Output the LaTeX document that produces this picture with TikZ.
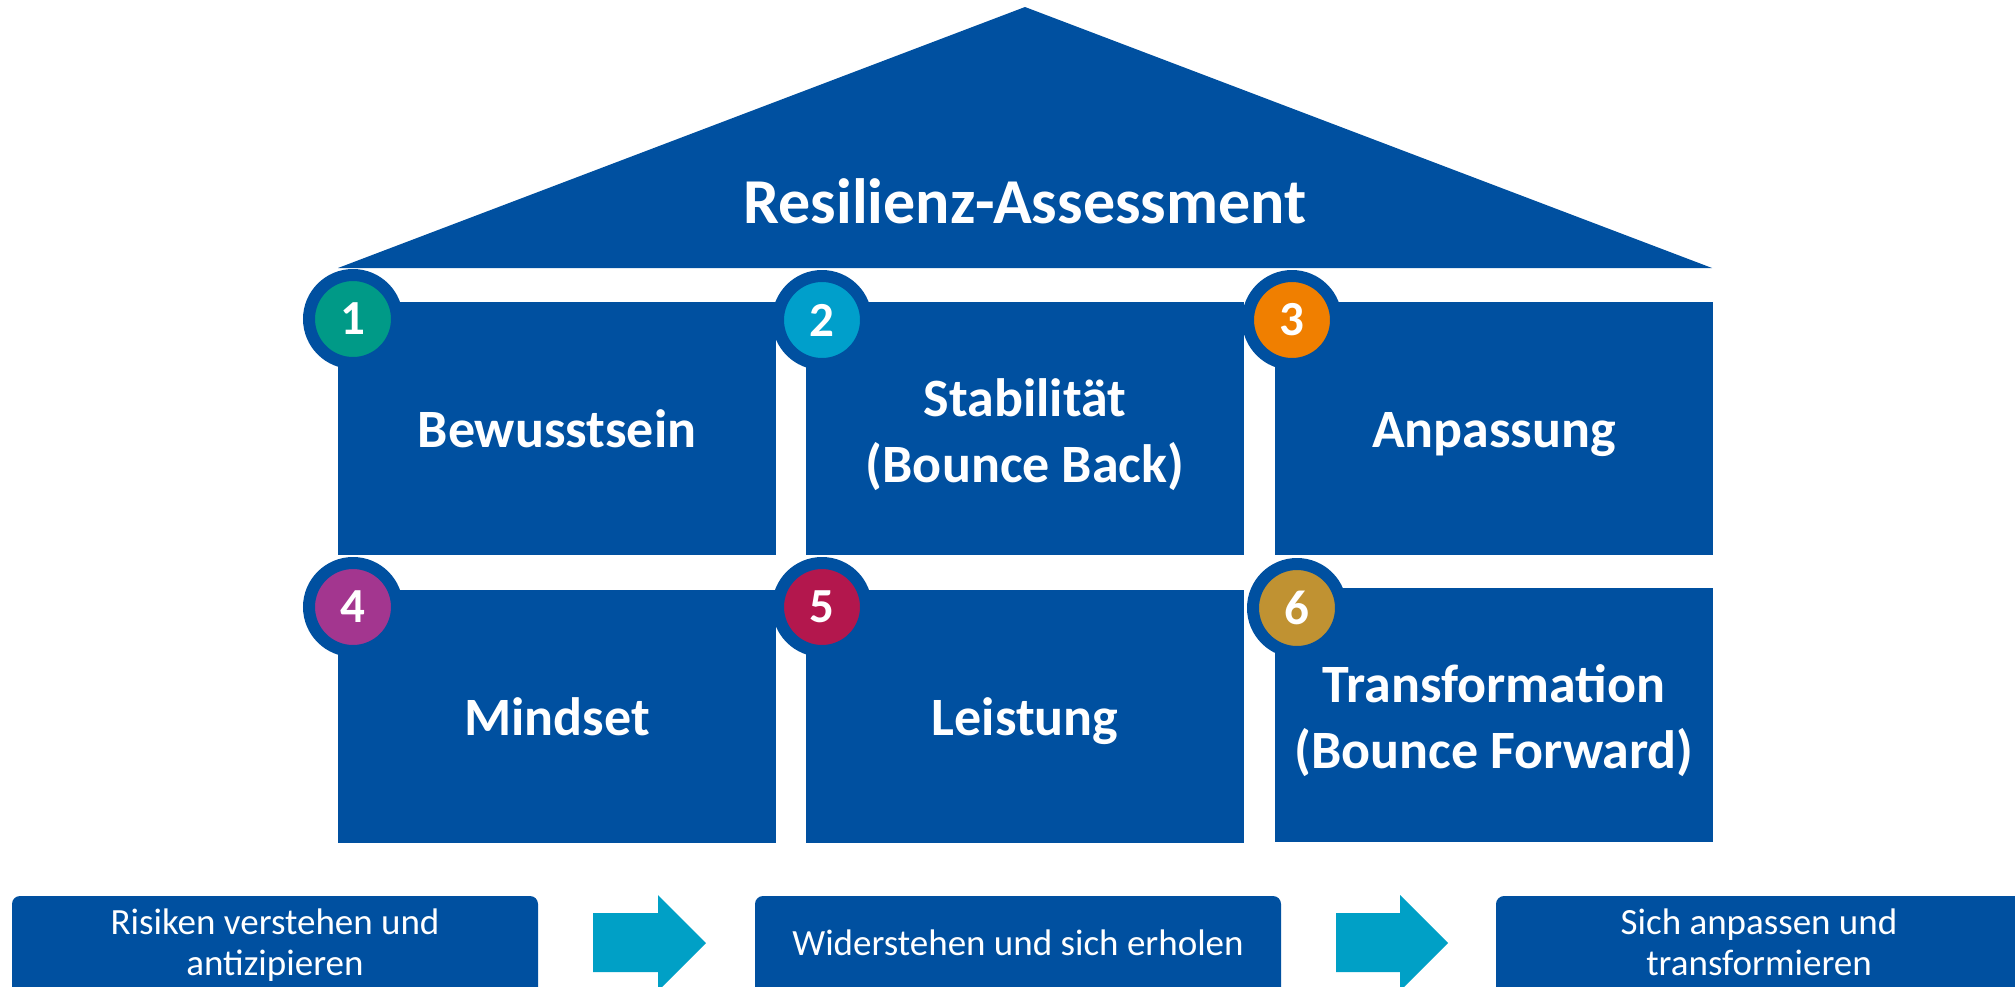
\documentclass[tikz,border=0pt]{standalone}
\usepackage{fontspec}
\setmainfont{Carlito}
\definecolor{dblue}{HTML}{0050A0}
\definecolor{acyan}{HTML}{00A0C6}
\definecolor{cone}{HTML}{009A87}
\definecolor{ctwo}{HTML}{009FCB}
\definecolor{cthree}{HTML}{F07F00}
\definecolor{cfour}{HTML}{A3368F}
\definecolor{cfive}{HTML}{B3174D}
\definecolor{csix}{HTML}{C09232}
\tikzset{
  pillar/.style={rectangle,fill=dblue,draw=none,inner sep=0pt,minimum width=438pt,minimum height=253pt},
  badge/.style={circle,draw=dblue,line width=12pt,minimum size=88pt,inner sep=0pt,text=white,font=\bfseries\fontsize{49}{50}\selectfont},
  ptext/.style={text=white,anchor=base,inner sep=0pt,font=\bfseries\fontsize{54}{66}\selectfont},
  bbox/.style={rectangle,rounded corners=8pt,fill=dblue,draw=none,inner sep=0pt,minimum width=526pt,minimum height=114pt},
  btext/.style={text=white,anchor=base,inner sep=0pt,font=\fontsize{37}{41}\selectfont},
  blockarrow/.style={fill=acyan,draw=none}
}
\newcommand{\twol}[2]{\begin{tabular}[t]{@{}c@{}}#1\\#2\end{tabular}}
\begin{document}
\begin{tikzpicture}[x=1pt,y=-1pt]
\useasboundingbox (0,0) rectangle (2015,986);
\clip (0,0) rectangle (2015,986);
% roof
\fill[dblue] (338,268) -- (1025,7) -- (1712,268) -- cycle;
\node[text=white,anchor=base,inner sep=0pt,font=\bfseries\fontsize{64}{70}\selectfont] (title) at (1025,223) {Resilienz-Assessment};
% pillars
\node[pillar] (p1) at (557,428.5) {};
\node[pillar] (p2) at (1025,428.5) {};
\node[pillar] (p3) at (1494,428.5) {};
\node[pillar] (p4) at (557,716.5) {};
\node[pillar] (p5) at (1025,716.5) {};
\node[pillar,minimum height=254pt] (p6) at (1494,715) {};
% pillar texts
\node[ptext] (t1) at (557,447) {Bewusstsein};
\node[ptext] (t2) at (1025,416) {\twol{Stabilität}{(Bounce Back)}};
\node[ptext] (t3) at (1494,447) {Anpassung};
\node[ptext] (t4) at (557,735) {Mindset};
\node[ptext] (t5) at (1025,735) {Leistung};
\node[ptext] (t6) at (1494,702) {\twol{Transformation}{(Bounce Forward)}};
% badges
\node[badge,fill=cone] (n1) at (353,319) {1};
\node[badge,fill=ctwo] (n2) at (822,320) {2};
\node[badge,fill=cthree] (n3) at (1292,320) {3};
\node[badge,fill=cfour] (n4) at (353,607) {4};
\node[badge,fill=cfive] (n5) at (822,607) {5};
\node[badge,fill=csix] (n6) at (1297,608) {6};
% bottom boxes
\node[bbox] (r1) at (275,953) {};
\node[bbox] (r2) at (1018,953) {};
\node[bbox] (r3) at (1759,953) {};
\node[btext] (s1) at (275,934) {\twol{Risiken verstehen und}{antizipieren}};
\node[btext] (s2) at (1018,955) {Widerstehen und sich erholen};
\node[btext] (s3) at (1759,934) {\twol{Sich anpassen und}{transformieren}};
% block arrows
\fill[blockarrow] (593,913) -- (658,913) -- (658,895) -- (706,943) -- (658,991) -- (658,972) -- (593,972) -- cycle;
\fill[blockarrow] (1336,913) -- (1400,913) -- (1400,895) -- (1448,943) -- (1400,991) -- (1400,972) -- (1336,972) -- cycle;
\end{tikzpicture}
\end{document}
